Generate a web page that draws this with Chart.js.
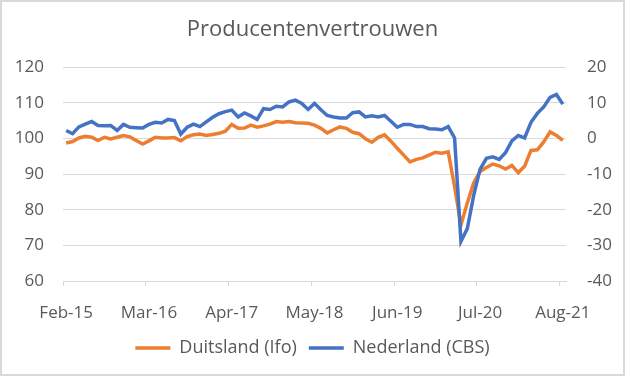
<!DOCTYPE html>
<html>
<head>
<meta charset="utf-8">
<script src="https://cdn.jsdelivr.net/npm/chart.js@4.4.1/dist/chart.umd.min.js"></script>
<style>
  html, body { margin: 0; padding: 0; background: #fff; }
  #wrap { width: 625px; height: 376px; }
</style>
</head>
<body>
<div id="wrap"><canvas id="chart"></canvas></div>
<script>
// Months on the x axis (Feb-15 .. Aug-21)
const months = [
  'Feb-15','Mar-15','Apr-15','May-15','Jun-15','Jul-15','Aug-15','Sep-15','Oct-15','Nov-15','Dec-15',
  'Jan-16','Feb-16','Mar-16','Apr-16','May-16','Jun-16','Jul-16','Aug-16','Sep-16','Oct-16','Nov-16','Dec-16',
  'Jan-17','Feb-17','Mar-17','Apr-17','May-17','Jun-17','Jul-17','Aug-17','Sep-17','Oct-17','Nov-17','Dec-17',
  'Jan-18','Feb-18','Mar-18','Apr-18','May-18','Jun-18','Jul-18','Aug-18','Sep-18','Oct-18','Nov-18','Dec-18',
  'Jan-19','Feb-19','Mar-19','Apr-19','May-19','Jun-19','Jul-19','Aug-19','Sep-19','Oct-19','Nov-19','Dec-19',
  'Jan-20','Feb-20','Mar-20','Apr-20','May-20','Jun-20','Jul-20','Aug-20','Sep-20','Oct-20','Nov-20','Dec-20',
  'Jan-21','Feb-21','Mar-21','Apr-21','May-21','Jun-21','Jul-21','Aug-21'
];

// Duitsland (Ifo), left axis
const duitsland = [
  98.7, 99.1, 100.1, 100.6, 100.3, 99.4, 100.3, 99.8, 100.3, 100.8, 100.4,
  99.4, 98.4, 99.3, 100.3, 100.1, 100.1, 100.2, 99.3, 100.5, 101.0, 101.2, 100.8,
  101.1, 101.4, 102.0, 103.9, 102.8, 102.9, 103.7, 103.1, 103.5, 104.0, 104.7, 104.5,
  104.7, 104.4, 104.3, 104.2, 103.7, 102.8, 101.5, 102.4, 103.2, 102.8, 101.7, 101.3,
  99.9, 98.9, 100.3, 101.0, 99.2, 97.2, 95.3, 93.4, 94.1, 94.5, 95.3, 96.1,
  95.8, 96.2, 86.5, 75.7, 81.9, 87.5, 90.7, 91.8, 92.8, 92.3, 91.4, 92.4,
  90.4, 92.2, 96.6, 96.8, 99.0, 101.8, 100.8, 99.4
];

// Nederland (CBS), right axis
const nederland = [
  2.2, 1.3, 3.2, 4.0, 4.7, 3.6, 3.5, 3.6, 2.2, 3.9, 3.1,
  3.0, 2.9, 3.9, 4.5, 4.3, 5.3, 5.0, 1.2, 3.1, 4.0, 3.3, 4.6,
  5.9, 6.9, 7.5, 7.9, 6.0, 7.1, 6.3, 5.3, 8.3, 8.1, 9.0, 8.8,
  10.2, 10.7, 9.8, 8.1, 9.8, 8.0, 6.4, 6.0, 5.7, 5.7, 7.2, 7.4,
  6.0, 6.3, 6.0, 6.4, 4.8, 3.1, 3.9, 3.9, 3.3, 3.3, 2.7, 2.6,
  2.4, 3.3, 0.1, -28.9, -25.3, -16.0, -8.7, -5.6, -5.2, -5.9, -4.0, -0.7,
  0.8, 0.1, 4.5, 7.0, 8.8, 11.5, 12.3, 9.6
];

const leftRange = [60, 120];
const rightRange = [-40, 20];
const labelEvery = 13;

Chart.defaults.font.family = "'Open Sans', sans-serif";
Chart.defaults.color = '#595959';

// white background + thin frame round the picture
const framePlugin = {
  id: 'frame',
  beforeDraw(chart) {
    const c = chart.ctx;
    c.save();
    c.fillStyle = '#ffffff';
    c.fillRect(0, 0, chart.width, chart.height);
    c.restore();
  },
  afterDraw(chart) {
    const c = chart.ctx;
    c.save();
    c.strokeStyle = '#d9d9d9';
    c.lineWidth = 2;
    c.strokeRect(1, 1, chart.width - 2, chart.height - 2);
    c.restore();
  }
};

new Chart(document.getElementById('chart'), {
  type: 'line',
  data: {
    labels: months,
    datasets: [
      {
        label: 'Duitsland (Ifo)',
        data: duitsland,
        yAxisID: 'y',
        borderColor: '#ED7D31',
        backgroundColor: '#ED7D31',
        borderWidth: 3.5,
        pointRadius: 0,
        tension: 0,
        order: 2
      },
      {
        label: 'Nederland (CBS)',
        data: nederland,
        yAxisID: 'y1',
        borderColor: '#4472C4',
        backgroundColor: '#4472C4',
        borderWidth: 3.5,
        pointRadius: 0,
        tension: 0,
        order: 1
      }
    ]
  },
  options: {
    responsive: true,
    maintainAspectRatio: false,
    animation: false,
    layout: { padding: { left: 0, right: 0, top: 0, bottom: 9 } },
    plugins: {
      title: {
        display: true,
        text: 'Producentenvertrouwen',
        font: { size: 22, weight: 'normal' },
        color: '#595959',
        padding: { top: 17, bottom: 23.6 }
      },
      legend: {
        position: 'bottom',
        labels: {
          usePointStyle: true,
          pointStyle: 'line',
          pointStyleWidth: 35,
          padding: 12,
          font: { size: 18 },
          sort: (a, b) => a.datasetIndex - b.datasetIndex
        }
      },
      tooltip: { enabled: false }
    },
    scales: {
      x: {
        offset: true,
        grid: {
          offset: true,
          drawOnChartArea: false,
          drawTicks: true,
          tickLength: 5,
          color: ctx => (ctx.index % labelEvery === 0 ? '#d9d9d9' : 'rgba(0,0,0,0)')
        },
        border: { color: '#d9d9d9' },
        ticks: {
          autoSkip: false,
          maxRotation: 0,
          padding: 17,
          font: { size: 17 },
          callback: function (value, index) {
            return index % labelEvery === 0 ? this.getLabelForValue(value) : '';
          }
        },
        afterFit: s => { s.height = 46; }
      },
      y: {
        position: 'left',
        min: leftRange[0],
        max: leftRange[1],
        grid: { color: '#d9d9d9', drawTicks: false },
        border: { display: false },
        ticks: { stepSize: 10, padding: 19, font: { size: 17 } },
        afterFit: s => { s.width = 63; }
      },
      y1: {
        position: 'right',
        min: rightRange[0],
        max: rightRange[1],
        grid: { drawOnChartArea: false, drawTicks: false },
        border: { display: false },
        ticks: { stepSize: 10, padding: 21, font: { size: 17 } },
        afterFit: s => { s.width = 59; }
      }
    }
  },
  plugins: [framePlugin]
});
</script>
</body>
</html>
